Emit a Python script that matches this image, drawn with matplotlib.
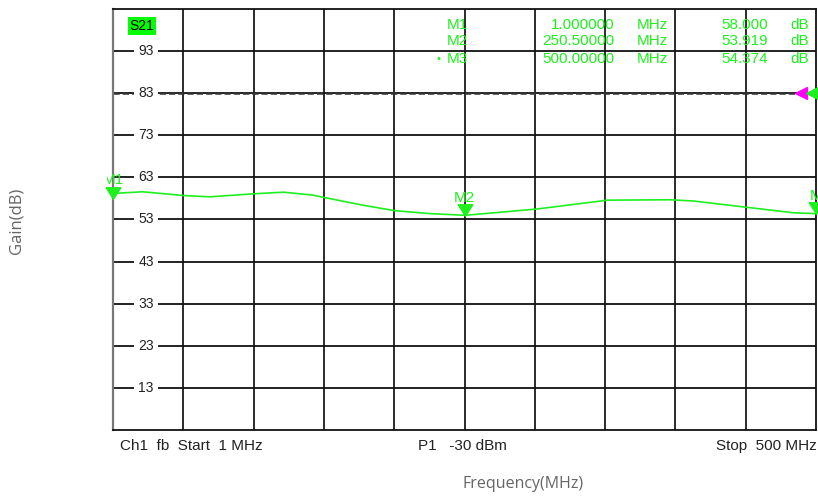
import numpy as np
import matplotlib.pyplot as plt
from matplotlib.patches import Rectangle

# ──────────────────────────────────────────
# Data
# ──────────────────────────────────────────
freq_mhz = [1, 22, 51, 70, 100, 122, 143, 151.5, 178.5, 201, 226, 251,
            302, 352, 396, 413, 451, 484, 500]
gain_db = [59.2, 59.6, 58.7, 58.4, 59.1, 59.5, 58.8, 58.2, 56.4, 55.1, 54.4, 54.0,
           55.5, 57.6, 57.7, 57.4, 55.9, 54.6, 54.4]

y_ticks = [13, 23, 33, 43, 53, 63, 73, 83, 93]
ref_level = 83

marker_names = ["M1", "M2", "M3"]
marker_freq = [1.0, 250.5, 500.0]
marker_gain = [58.0, 53.919, 54.374]
marker_freq_txt = ["1.000000", "250.50000", "500.00000"]
marker_gain_txt = ["58.000", "53.919", "54.374"]

GREEN = "#1EF01E"
FONT = "Liberation Sans"

fig = plt.figure(figsize=(8.18, 5.0), dpi=100)
ax = fig.add_axes([113 / 818, 1 - 430 / 500, 703 / 818, 421 / 500])
ax.set_xlim(1, 500)
ax.set_ylim(2.9, 103.1)

# grid: 10 x 10 divisions
xg = np.linspace(1, 500, 11)
for x in xg[1:-1]:
    ax.axvline(x, color="#1a1a1a", lw=1.3, zorder=1)
for y in y_ticks:
    ax.axhline(y, color="#111111", lw=1.3, zorder=1)
ax.axhline(ref_level, color="#333333", lw=1.8, ls=(0, (2.5, 1.2)), zorder=2)

for s in ["top", "bottom", "right"]:
    ax.spines[s].set_color("#111111")
    ax.spines[s].set_linewidth(1.3)
ax.spines["left"].set_color("#777777")
ax.spines["left"].set_linewidth(1.6)
ax.set_xticks([])
ax.set_yticks([])

# y labels sit on the grid lines inside the plot
for y in y_ticks:
    ax.text(24.4, y, str(y), ha="center", va="center", fontsize=10,
            family=FONT, color="#222222", zorder=3,
            bbox=dict(facecolor="white", edgecolor="none", pad=3.2))

# trace
ax.plot(freq_mhz, gain_db, color=GREEN, lw=1.2, zorder=4, clip_on=False)

# markers: triangle tip sits on the marker value
tri = [(-7, 5.5), (7, 5.5), (0, -5.5), (-7, 5.5)]
left_clip = Rectangle((107, 0), 720, 500, transform=None)
for name, f, g in zip(marker_names, marker_freq, marker_gain):
    ax.plot(f, g + 1.3, marker=tri, ms=10.5, color=GREEN, mec=GREEN, zorder=5,
            clip_on=False)
    lbl = name if name != "M3" else "M"
    t = ax.text(f, g + 4.3, lbl, ha="center", va="center", fontsize=11,
                family=FONT, color=GREEN, zorder=5, clip_on=False)
    if name == "M1":
        t.set_clip_path(left_clip)
        t.set_clip_on(True)

# reference level arrows on right edge
ax.plot(489, ref_level, marker="<", ms=9, color="#FF00FF", zorder=5, clip_on=False)
ax.plot(497.5, ref_level, marker="<", ms=9, color=GREEN, zorder=5, clip_on=False)

# S21 label
ax.text(12.8, 99.0, "S21", ha="left", va="center", fontsize=10,
        family=FONT, color="black", zorder=5,
        bbox=dict(facecolor="#00FF00", edgecolor="none", pad=1.5))

# marker table
row_y = [99.4, 95.4, 91.1]
for i in range(3):
    y = row_y[i]
    if i == 2:
        ax.text(232, y, "\u2022", ha="center", va="center", fontsize=8,
                family=FONT, color=GREEN, zorder=5)
    ax.text(238, y, marker_names[i], ha="left", va="center", fontsize=11,
            family=FONT, color=GREEN, zorder=5)
    ax.text(357, y, marker_freq_txt[i], ha="right", va="center", fontsize=11,
            family=FONT, color=GREEN, zorder=5)
    ax.text(373, y, "MHz", ha="left", va="center", fontsize=11,
            family=FONT, color=GREEN, zorder=5)
    ax.text(466, y, marker_gain_txt[i], ha="right", va="center", fontsize=11,
            family=FONT, color=GREEN, zorder=5)
    ax.text(481.5, y, "dB", ha="left", va="center", fontsize=11,
            family=FONT, color=GREEN, zorder=5)

# status line under the grid
fig.text(120 / 818, 1 - 446 / 500, "Ch1  fb  Start  1 MHz", ha="left", va="center",
         fontsize=11, family=FONT, color="#222222")
fig.text(418 / 818, 1 - 446 / 500, "P1   -30 dBm", ha="left", va="center",
         fontsize=11, family=FONT, color="#222222")
fig.text(817 / 818, 1 - 446 / 500, "Stop  500 MHz", ha="right", va="center",
         fontsize=11, family=FONT, color="#222222")

# outer axis titles
fig.text(523 / 818, 1 - 484 / 500, "Frequency(MHz)", ha="center", va="center",
         fontsize=11.5, family="Open Sans", color="#666666")
fig.text(16 / 818, 1 - 221 / 500, "Gain(dB)", ha="center", va="center",
         rotation=90, fontsize=12, family="Open Sans", color="#666666")

fig.savefig("out.png", dpi=100)
